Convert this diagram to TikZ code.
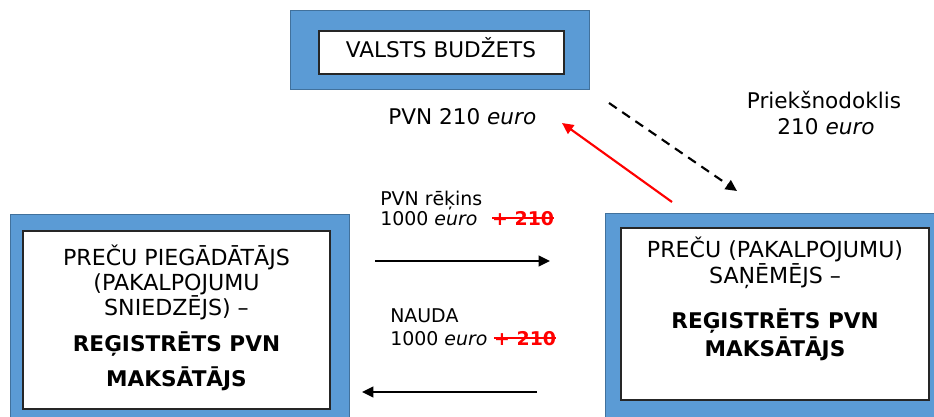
\documentclass[tikz,border=0pt]{standalone}
\usepackage{fontspec}
\setmainfont{DejaVu Sans}
\usetikzlibrary{arrows.meta}
\definecolor{boxblue}{HTML}{5B9BD5}
\definecolor{boxedge}{HTML}{41719C}
\definecolor{inneredge}{HTML}{262626}
\newsavebox{\strkbox}
\newcommand{\strikered}[1]{{\color{red}\bfseries\sbox{\strkbox}{#1}\rlap{\raisebox{0.33em}{\rule{\wd\strkbox}{1.1pt}}}\usebox{\strkbox}}}
\begin{document}
\begin{tikzpicture}[x=0.75pt,y=-0.75pt,
  outerbox/.style={draw=boxedge,fill=boxblue,line width=0.75pt,inner sep=0pt,outer sep=0pt},
  innerbox/.style={draw=inneredge,fill=white,line width=0.9pt,inner sep=0pt,outer sep=0pt},
  bigtxt/.style={font=\fontsize{16.6}{19}\selectfont,inner sep=0pt},
  boldtxt/.style={font=\fontsize{16.2}{19}\selectfont\bfseries,inner sep=0pt},
  midtxt/.style={font=\fontsize{16.2}{19}\selectfont,inner sep=0pt},
  lbltxt/.style={font=\fontsize{14.2}{17}\selectfont,inner sep=0pt},
  flow/.style={line width=1.6pt,-{Triangle[length=8.5pt,width=8pt]}},
]
\useasboundingbox (0,0) rectangle (934,417);
\clip (0,0) rectangle (934,417);

% top box
\node[outerbox,minimum width={299*0.75pt},minimum height={79*0.75pt}] (topouter) at (439.5,50.5) {};
\node[innerbox,minimum width={245*0.75pt},minimum height={43*0.75pt}] (topinner) at (441.5,52.5) {};
\node[midtxt,anchor=base] (vb) at (441,58) {VALSTS BUDŽETS};

% left box
\node[outerbox,minimum width={339*0.75pt},minimum height={211*0.75pt}] (leftouter) at (179.5,319.5) {};
\node[innerbox,minimum width={307*0.75pt},minimum height={178*0.75pt}] (leftinner) at (176.5,320) {};
\node[bigtxt,anchor=base] (l1) at (176.5,265) {PREČU PIEGĀDĀTĀJS};
\node[bigtxt,anchor=base] (l2) at (176.5,290) {(PAKALPOJUMU};
\node[bigtxt,anchor=base] (l3) at (176.5,315) {SNIEDZĒJS) –};
\node[boldtxt,anchor=base] (l4) at (176.5,351) {REĢISTRĒTS PVN};
\node[boldtxt,anchor=base] (l5) at (176.5,386) {MAKSĀTĀJS};

% right box
\node[outerbox,minimum width={335*0.75pt},minimum height={212*0.75pt}] (rightouter) at (772.5,319) {};
\node[innerbox,minimum width={308*0.75pt},minimum height={172*0.75pt}] (rightinner) at (775,314) {};
\node[bigtxt,anchor=base] (r1) at (775,257) {PREČU (PAKALPOJUMU)};
\node[bigtxt,anchor=base] (r2) at (775,283) {SAŅĒMĒJS –};
\node[boldtxt,anchor=base] (r3) at (775,328) {REĢISTRĒTS PVN};
\node[boldtxt,anchor=base] (r4) at (775,356) {MAKSĀTĀJS};

% labels
\node[midtxt,anchor=base west] (pvn210) at (388,125) {PVN 210 \textit{euro}};
\node[midtxt,anchor=base] (pn1) at (824,109) {Priekšnodoklis};
\node[midtxt,anchor=base] (pn2) at (826,135) {210 \textit{euro}};
\node[lbltxt,anchor=base west] (inv1) at (380,205) {PVN rēķins};
\node[lbltxt,anchor=base west] (inv2) at (380,225) {1000 \textit{euro}\hspace{11pt}\strikered{+ 210}};
\node[lbltxt,anchor=base west] (pay1) at (390,322) {NAUDA};
\node[lbltxt,anchor=base west] (pay2) at (390,345) {1000 \textit{euro}\hspace{5pt}\strikered{+ 210}};

% arrows
\coordinate (ra) at (375,261);
\coordinate (rb) at (550,261);
\coordinate (la) at (537,392);
\coordinate (lb) at (362,392);
\coordinate (reda) at (672,202);
\coordinate (redb) at (562,123);
\coordinate (da) at (609,103);
\coordinate (db) at (737,191);
\draw[flow] (ra) -- (rb);
\draw[flow] (la) -- (lb);
\draw[flow,red] (reda) -- (redb);
\draw[flow,dash pattern=on 7pt off 5pt] (da) -- (db);
\end{tikzpicture}
\end{document}
